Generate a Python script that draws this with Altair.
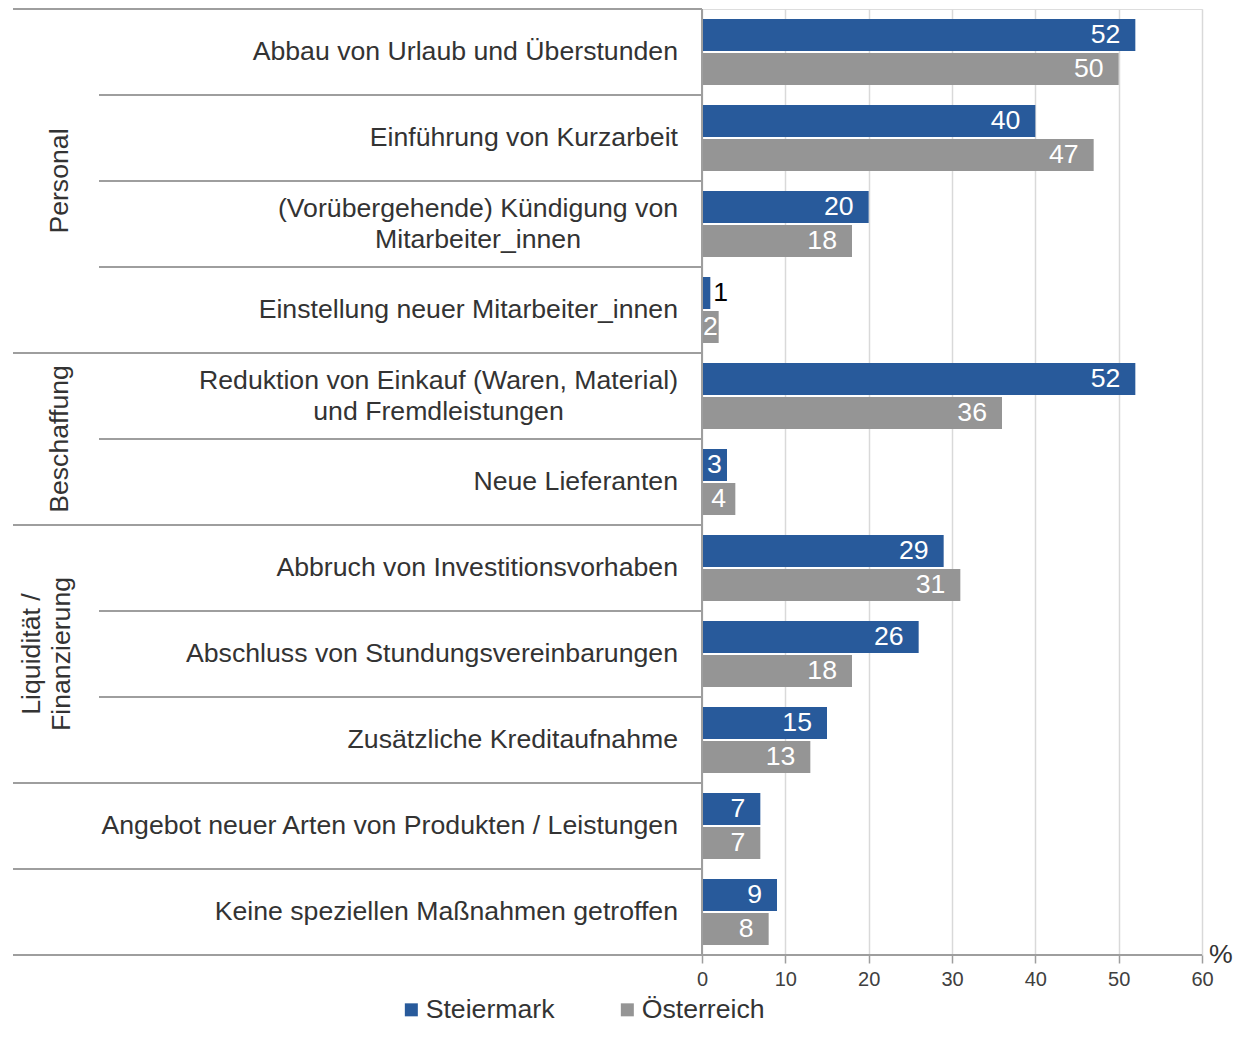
import altair as alt
import pandas as pd

# ---------------- data ----------------
categories = [
    "Abbau von Urlaub und Überstunden",
    "Einführung von Kurzarbeit",
    "(Vorübergehende) Kündigung von\nMitarbeiter_innen",
    "Einstellung neuer Mitarbeiter_innen",
    "Reduktion von Einkauf (Waren, Material)\nund Fremdleistungen",
    "Neue Lieferanten",
    "Abbruch von Investitionsvorhaben",
    "Abschluss von Stundungsvereinbarungen\u00a0",
    "Zusätzliche Kreditaufnahme",
    "Angebot neuer Arten von Produkten / Leistungen",
    "Keine speziellen Maßnahmen getroffen",
]
groups = ["Personal"] * 4 + ["Beschaffung"] * 2 + ["Liquidität /\nFinanzierung"] * 3 + ["", ""]
steiermark = [52, 40, 20, 1, 52, 3, 29, 26, 15, 7, 9]
oesterreich = [50, 47, 18, 2, 36, 4, 31, 18, 13, 7, 8]
series = ["Steiermark", "Österreich"]
colors = ["#285a9b", "#959595"]
x_ticks = [0, 10, 20, 30, 40, 50, 60]
unit = "%"

# ---------------- tables ----------------
rows = []
for c, s, o in zip(categories, steiermark, oesterreich):
    rows.append({"category": c, "series": series[0], "value": s})
    rows.append({"category": c, "series": series[1], "value": o})
bars_df = pd.DataFrame(rows)

cat_rows = []
for i, (c, g) in enumerate(zip(categories, groups)):
    full = i == 0 or g == "" or g != groups[i - 1]
    cat_rows.append({"category": c, "group": g, "full": full, "multi": "\n" in c})
cat_df = pd.DataFrame(cat_rows)

# group label anchors
grp_rows = []
i = 0
while i < len(groups):
    g = groups[i]
    j = i
    while j + 1 < len(groups) and groups[j + 1] == g:
        j += 1
    if g:
        n = j - i + 1
        if n % 2 == 0:
            grp_rows.append({"group": g, "category": categories[i + n // 2 - 1], "even": True})
        else:
            grp_rows.append({"group": g, "category": categories[i + n // 2], "even": False})
    i = j + 1
grp_df = pd.DataFrame(grp_rows)

one = pd.DataFrame({"k": [0]})

# ---------------- styling ----------------
FONT = "Liberation Sans"
FS = 26.67
W, H = 500, 946
LINE = "#9e9e9e"
TXT = "#333333"

y_scale = alt.Scale(domain=categories, paddingInner=0, paddingOuter=0)
x_scale = alt.Scale(domain=[0, 60], nice=False)
yoff_scale = alt.Scale(domain=series, paddingInner=0.0588, paddingOuter=0.2941)

Y = alt.Y("category:N", scale=y_scale, axis=None, sort=categories)
YOFF = alt.YOffset("series:N", scale=yoff_scale, sort=series)

bars = alt.Chart(bars_df).mark_bar().encode(
    x=alt.X("value:Q", scale=x_scale,
            axis=alt.Axis(values=x_ticks, title=None, grid=True, gridColor="#d9d9d9", gridWidth=1.5,
                          domain=False, ticks=True, tickColor=LINE, tickWidth=1.5, tickSize=8,
                          labelPadding=6, labelFontSize=20, labelColor="#404040", labelFont=FONT,
                          labelFlush=False)),
    y=Y,
    yOffset=YOFF,
    color=alt.Color("series:N", sort=series, scale=alt.Scale(domain=series, range=colors),
                    legend=alt.Legend(title=None, orient="none", legendX=-304, legendY=987,
                                      direction="horizontal", symbolType="square", symbolSize=169,
                                      symbolStrokeWidth=0, labelFontSize=FS, labelColor=TXT,
                                      labelFont=FONT, columnPadding=59, labelOffset=1, padding=0)),
)

lab_big = alt.Chart(bars_df).transform_filter("datum.value >= 5").mark_text(
    align="right", baseline="middle", dx=-15, fontSize=FS, font=FONT, color="white"
).encode(x=alt.X("value:Q", scale=x_scale), y=Y, yOffset=YOFF, text="value:Q")

lab_small = alt.Chart(bars_df).transform_filter("datum.value >= 2 && datum.value < 5").transform_calculate(
    mid="datum.value / 2"
).mark_text(align="center", baseline="middle", fontSize=FS, font=FONT, color="white").encode(
    x=alt.X("mid:Q", scale=x_scale), y=Y, yOffset=YOFF, text="value:Q")

lab_tiny = alt.Chart(bars_df).transform_filter("datum.value < 2").mark_text(
    align="left", baseline="middle", dx=3, fontSize=FS, font=FONT, color="black"
).encode(x=alt.X("value:Q", scale=x_scale), y=Y, yOffset=YOFF, text="value:Q")

# category labels
cat_single = alt.Chart(cat_df).transform_filter("!datum.multi").mark_text(
    align="right", baseline="middle", fontSize=FS, font=FONT, color=TXT
).encode(x=alt.value(-24), y=Y, text="category:N")

cat_multi_1 = alt.Chart(cat_df).transform_filter(
    alt.datum.category == categories[2]).mark_text(
    align="center", baseline="middle", fontSize=FS, font=FONT, color=TXT, lineBreak="\n", lineHeight=31,
    dy=-15.5
).encode(x=alt.value(-224), y=Y, text="category:N")

cat_multi_2 = alt.Chart(cat_df).transform_filter(
    alt.datum.category == categories[4]).mark_text(
    align="center", baseline="middle", fontSize=FS, font=FONT, color=TXT, lineBreak="\n", lineHeight=31,
    dy=-15.5
).encode(x=alt.value(-263.5), y=Y, text="category:N")

# group labels
grp_even = alt.Chart(grp_df).transform_filter("datum.even").mark_text(
    align="center", baseline="middle", angle=270, fontSize=FS, font=FONT, color=TXT,
    lineBreak="\n", lineHeight=30
).encode(x=alt.value(-642), y=alt.Y("category:N", scale=y_scale, axis=None, sort=categories, bandPosition=1),
         text="group:N")

grp_odd = alt.Chart(grp_df).transform_filter("!datum.even").mark_text(
    align="center", baseline="middle", angle=270, fontSize=FS, font=FONT, color=TXT,
    lineBreak="\n", lineHeight=30
).encode(x=alt.value(-670), y=alt.Y("category:N", scale=y_scale, axis=None, sort=categories, bandPosition=0.5),
         text="group:N")

# separator lines
Y_top = alt.Y("category:N", scale=y_scale, axis=None, sort=categories, bandPosition=0)
rule_full = alt.Chart(cat_df).transform_filter("datum.full").mark_rule(color=LINE, strokeWidth=2).encode(
    y=Y_top, x=alt.value(-689), x2=alt.value(0))
rule_short = alt.Chart(cat_df).transform_filter("!datum.full").mark_rule(color=LINE, strokeWidth=2).encode(
    y=Y_top, x=alt.value(-603), x2=alt.value(0))
rule_bottom = alt.Chart(one).mark_rule(color=LINE, strokeWidth=2).encode(
    y=alt.value(H), x=alt.value(-689), x2=alt.value(W))
rule_axis = alt.Chart(one).mark_rule(color=LINE, strokeWidth=2).encode(
    x=alt.value(0), y=alt.value(0), y2=alt.value(H))

pct = alt.Chart(one).mark_text(align="left", baseline="middle", fontSize=FS, font=FONT, color=TXT).encode(
    x=alt.value(507), y=alt.value(H), text=alt.value(unit))

chart = alt.layer(
    bars, rule_full, rule_short, rule_bottom, rule_axis,
    lab_big, lab_small, lab_tiny,
    cat_single, cat_multi_1, cat_multi_2, grp_even, grp_odd, pct
).properties(
    width=W, height=H,
    autosize=alt.AutoSizeParams(type="none"),
    padding={"left": 694, "top": 1, "right": 31, "bottom": 70},
).configure_view(stroke=None).configure(font=FONT)

chart.save("out.html", embed_options={"renderer": "svg", "actions": False})
